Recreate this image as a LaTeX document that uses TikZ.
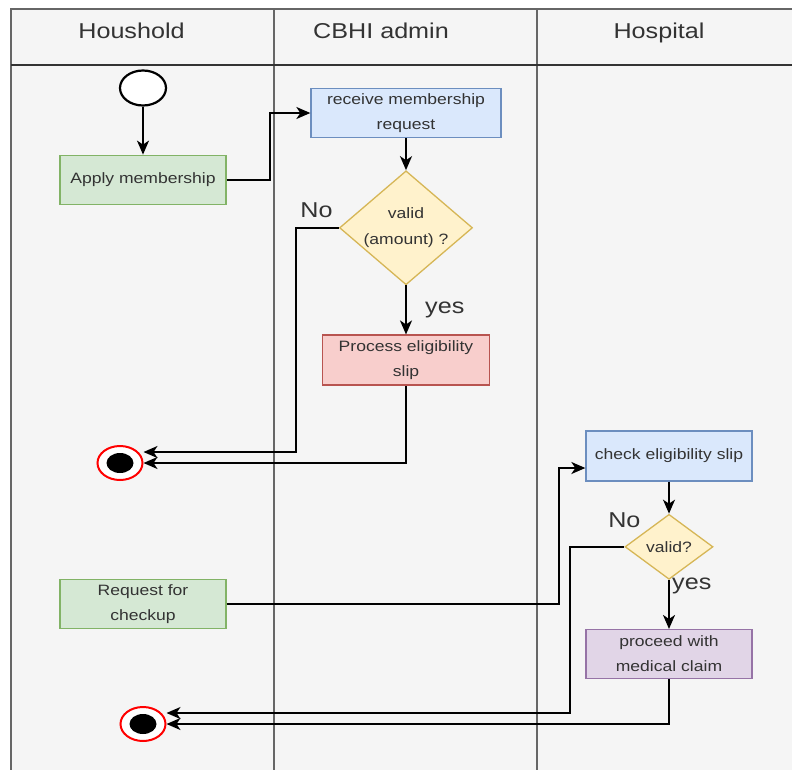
\documentclass[tikz,border=0pt]{standalone}
\usepackage{fontspec}
\setmainfont{Liberation Sans}[FakeStretch=1.17]
\usetikzlibrary{arrows.meta,positioning,shapes.geometric}

\definecolor{lanefill}{HTML}{F5F5F5}
\definecolor{laneline}{HTML}{666666}
\definecolor{txt}{HTML}{333333}
\definecolor{greenfill}{HTML}{D5E8D4}
\definecolor{greenline}{HTML}{82B366}
\definecolor{bluefill}{HTML}{DAE8FC}
\definecolor{blueline}{HTML}{6C8EBF}
\definecolor{yellowfill}{HTML}{FFF2CC}
\definecolor{yellowline}{HTML}{D6B656}
\definecolor{redfill}{HTML}{F8CECC}
\definecolor{redline}{HTML}{B85450}
\definecolor{purplefill}{HTML}{E1D5E7}
\definecolor{purpleline}{HTML}{9673A6}

\begin{document}
\begin{tikzpicture}[x=1pt,y=-1pt,
            title/.style={text=txt,font=\fontsize{21.5}{25}\selectfont,inner sep=0pt,anchor=base},
            activity/.style={draw,rectangle,line width=1.3pt,minimum width=166pt,minimum height=49pt,
              align=center,text=txt,font=\fontsize{15}{25}\selectfont,inner sep=0pt},
            note/.style={text=txt,font=\fontsize{15}{26}\selectfont,align=center},
            decision/.style={draw=yellowline,fill=yellowfill,diamond,line width=1.3pt,inner sep=0pt},
            answer/.style={text=txt,font=\fontsize{21.5}{25}\selectfont,inner sep=0pt},
            initial/.style={draw,ellipse,fill=white,line width=2.2pt,minimum width=46pt,minimum height=35pt},
            final/.style={draw=red,ellipse,fill=white,line width=2pt,minimum width=45pt,minimum height=34pt,
              path picture={\fill[black] (path picture bounding box.center) ellipse (13.5pt and 10pt);}},
            flow/.style={draw,-{Stealth[length=14pt,width=12pt,inset=4pt]},line width=1.8pt}
          ]
          \useasboundingbox (0,0) rectangle (792,769);
          \fill[white] (0,0) rectangle (792,769);

          %lanes
          \draw[laneline,fill=lanefill,line width=1.4pt] (11,9) rectangle (800,780);
          \draw[laneline,line width=1.4pt] (274,9) -- (274,780) (537,9) -- (537,780);
          \draw[txt,line width=2.4pt] (11,65) -- (800,65);
          \node[title] (hhold) at (131.5,38) {Houshold};
          \node[title] (admin) at (381,38) {CBHI admin};
          \node[title] (hosp) at (659,38) {Hospital};

          %household
          \node[initial] (start) at (143,88) {};
          \node[activity,fill=greenfill,draw=greenline,below=48pt of start] (apply) {Apply membership};
          \node[final] (end1) at (120,463) {};
          \node[activity,fill=greenfill,draw=greenline] (request) at (143,604) {Request for\\checkup};
          \node[final] (end2) at (143,724) {};

          %cbhi admin
          \node[activity,fill=bluefill,draw=blueline,minimum width=190pt] (receive) at (406,113) {receive membership\\request};
          \node[decision,below=32pt of receive,minimum width=133pt,minimum height=114pt,
            label={[note]center:{valid\\(amount) ?}}] (valid1) {};
          \node[activity,fill=redfill,draw=redline,minimum width=167pt,minimum height=50pt,below=49pt of valid1] (process) {Process eligibility\\slip};
          \node[answer,above left=10pt and 6pt of valid1.west] (no1) {No};
          \node[answer,anchor=base west] (yes1) at (425,313) {yes};

          %hospital
          \node[activity,fill=bluefill,draw=blueline,minimum height=50pt] (check) at (669,456) {check eligibility slip};
          \node[decision,below=32pt of check,minimum width=88pt,minimum height=65pt,
            label={[note]center:valid?}] (valid2) {};
          \node[activity,fill=purplefill,draw=purpleline,below=49pt of valid2] (proceed) {proceed with\\medical claim};
          \node[answer,above=19pt of valid2.west] (no2) {No};
          \node[answer,anchor=base west] (yes2) at (672,589) {yes};

          %flows
          \path[flow] (start) -- (apply);
          \path[flow] (apply.east) -- ++(43,0) |- (receive.west);
          \path[flow] (receive) -- (valid1);
          \path[flow] (valid1) -- (process);
          \path[flow] (valid1.west) -- ++(-43,0) |- ([yshift=11pt]end1.east);
          \path[flow] (process.south) |- (end1.east);
          \path[flow] (request.east) -- ++(332,0) |- ([yshift=-12pt]check.west);
          \path[flow] (check) -- (valid2);
          \path[flow] (valid2) -- (proceed);
          \path[flow] (valid2.west) -- ++(-54,0) |- ([yshift=11pt]end2.east);
          \path[flow] (proceed.south) |- (end2.east);
      \end{tikzpicture}
\end{document}
